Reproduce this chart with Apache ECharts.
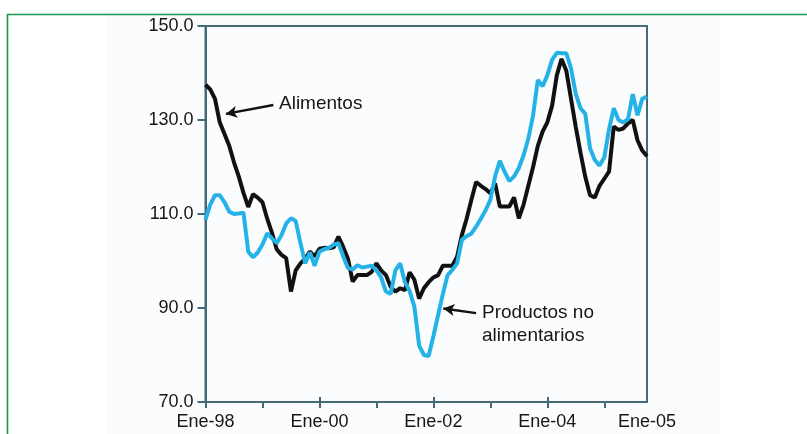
<!DOCTYPE html>
<html>
<head>
<meta charset="utf-8">
<script src="https://cdn.jsdelivr.net/npm/echarts@6/dist/echarts.min.js"></script>
<style>
html,body{margin:0;padding:0;background:#fff;}
#c{width:807px;height:434px;}
</style>
</head>
<body>
<div id="c"></div>
<script>
// Monthly index values, Ene-98 (index 0) onward
const alimentos = [
  137.5,136.5,134.5,129.5,127,124.5,121,118,114.5,111.5,114.2,113.5,
  112.5,109,106,102.5,101.3,100.6,93.5,98,99.5,100.5,102,101,
  102.6,102.8,102.7,102.9,105.2,103,100.5,95.6,97,97,97,97.7,
  99.5,98,97,94.5,93.5,94.2,93.8,97.6,96,92,94.2,95.5,
  96.5,97,99,99,99,100.9,105.5,109,113,116.8,116,115.3,
  114.4,116.5,111.6,111.6,111.6,113.5,109.1,112,116,120,124.5,127.5,
  129.5,133,139.5,143,140.5,134.5,128.5,123,117.9,114,113.5,116,
  117.5,119,128.6,127.9,128.2,129.3,130,125.7,123.5,122.3
];
const noAlimentarios = [
  108.8,112,114,114,112.5,110.5,110,110.1,110.3,102,100.8,101.8,
  103.5,105.9,104.8,103.8,105.5,108,109.1,108.5,103.8,99.5,101.8,99,
  102,102.5,102.8,103.5,103.8,101,98.5,98.2,99.1,98.6,98.8,99,
  98,96.5,93.5,93,98,99.5,95.5,93.6,90.3,82,80,79.8,
  84,88.5,93,97,98.1,99.5,104.5,105.3,105.8,107.3,109,110.8,
  113,118,121.3,119,117,118,119.8,122.5,126,131,138.5,137.2,
  139.5,142.8,144.3,144.2,144.2,141,135.5,132.5,131.3,124,121.5,120.3,
  122,128,132.5,130,129.5,130.2,135.5,131,134.5,135
];
const yTicks = [70, 90, 110, 130, 150];
const xTickMonths = [0, 12, 24, 36, 48, 60, 72, 84];
const xMajorMonths = [0, 24, 48, 72];
const xLabelMonths = [0, 24, 48, 72, 93];
const xLabelTexts = ['Ene-98', 'Ene-00', 'Ene-02', 'Ene-04', 'Ene-05'];
const seriesNames = ['Alimentos', 'Productos no alimentarios'];

const axisColor = '#46697a';
const textColor = '#161616';
const fontFam = '"Liberation Sans", Arial, sans-serif';
const lastMonth = alimentos.length - 1;

const chart = echarts.init(document.getElementById('c'));
chart.setOption({
  animation: false,
  backgroundColor: '#fff',
  graphic: [
    {type: 'rect', z: -10, shape: {x: 106, y: 15, width: 614, height: 420}, style: {fill: '#fbfcfd'}},
    {type: 'line', z: 100, shape: {x1: 7, y1: 14.5, x2: 807, y2: 14.5}, style: {stroke: '#1a9850', lineWidth: 1.6}},
    {type: 'line', z: 100, shape: {x1: 7.5, y1: 14, x2: 7.5, y2: 434}, style: {stroke: '#1a9850', lineWidth: 1.6}},
    {type: 'text', left: 279, top: 94, style: {text: 'Alimentos', font: '19px ' + fontFam, fill: textColor}},
    {type: 'text', left: 482, top: 301, style: {text: 'Productos no\nalimentarios', font: '19px ' + fontFam, fill: textColor, lineHeight: 23}}
  ],
  grid: {left: 205.5, right: 160, top: 26, bottom: 32, show: true, borderColor: axisColor, borderWidth: 2, backgroundColor: 'transparent'},
  xAxis: [
    {
      type: 'value', min: 0, max: lastMonth,
      axisLine: {show: true, lineStyle: {color: axisColor, width: 2}},
      axisTick: {show: true, length: 6, customValues: xTickMonths, lineStyle: {color: axisColor, width: 2}},
      axisLabel: {
        customValues: xLabelMonths, margin: 11, color: textColor, fontSize: 18, fontFamily: fontFam,
        formatter: function (v) { const i = xLabelMonths.indexOf(v); return i >= 0 ? xLabelTexts[i] : ''; }
      },
      splitLine: {show: false}
    },
    {
      type: 'value', min: 0, max: lastMonth, position: 'bottom',
      axisLine: {show: false},
      axisTick: {show: true, inside: true, length: 5, customValues: xMajorMonths, lineStyle: {color: axisColor, width: 2}},
      axisLabel: {show: false},
      splitLine: {show: false}
    }
  ],
  yAxis: {
    type: 'value', min: 70, max: 150, interval: 20,
    axisLine: {show: true, lineStyle: {color: axisColor, width: 2}},
    axisTick: {show: true, length: 8, lineStyle: {color: axisColor, width: 2}},
    axisLabel: {margin: 12, color: textColor, fontSize: 18, fontFamily: fontFam, formatter: function (v) { return yTicks.indexOf(v) >= 0 ? v.toFixed(1) : ''; }},
    splitLine: {show: false}
  },
  series: [
    {
      name: seriesNames[0], type: 'line', xAxisIndex: 0, showSymbol: false, symbol: 'none',
      data: alimentos.map((v, i) => [i, v]),
      lineStyle: {color: '#111', width: 4}, z: 3,
      markLine: {
        silent: true, symbol: ['none', 'arrow'], symbolSize: [9, 11],
        lineStyle: {color: '#111', width: 2.4, type: 'solid'}, label: {show: false},
        data: [[{coord: [14.3, 133.2]}, {coord: [4.3, 131.3]}]]
      }
    },
    {
      name: seriesNames[1], type: 'line', xAxisIndex: 0, showSymbol: false, symbol: 'none',
      data: noAlimentarios.map((v, i) => [i, v]),
      lineStyle: {color: '#25b3e7', width: 4}, z: 4,
      markLine: {
        silent: true, symbol: ['none', 'arrow'], symbolSize: [9, 11],
        lineStyle: {color: '#111', width: 2.4, type: 'solid'}, label: {show: false},
        data: [[{coord: [57, 88.9]}, {coord: [50.1, 89.9]}]]
      }
    }
  ]
});
</script>
</body>
</html>
